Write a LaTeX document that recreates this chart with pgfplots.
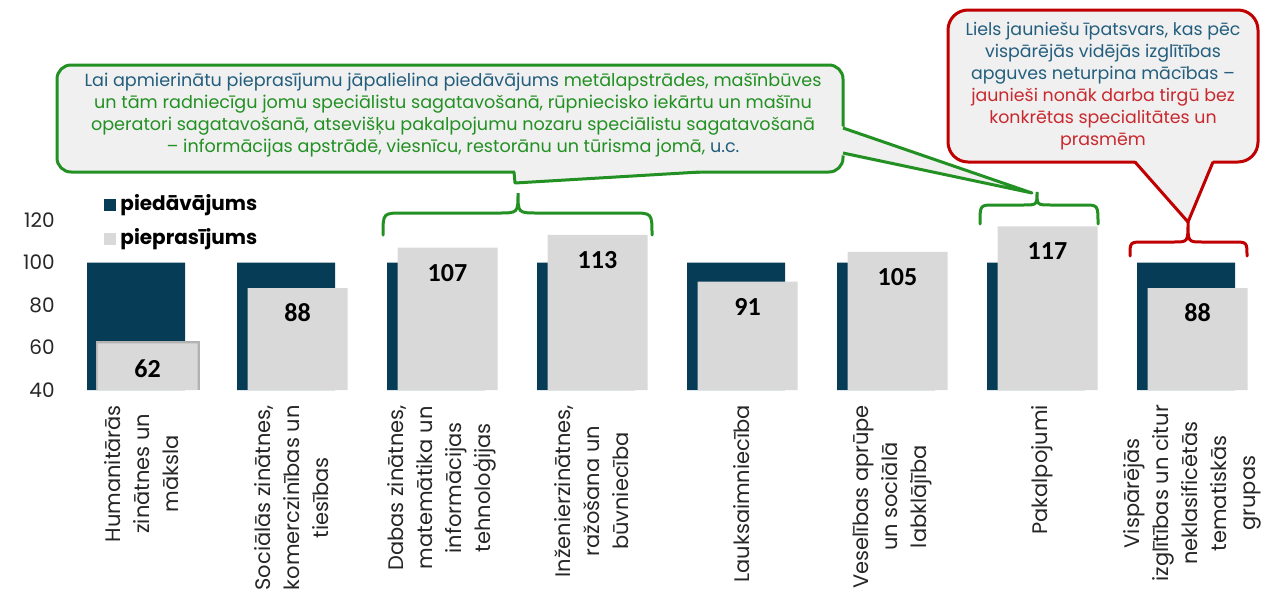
\documentclass[border=0pt]{standalone}
\usepackage{pgfplots}
\pgfplotsset{compat=1.18}
\usepackage{fontspec}
\setmainfont{Poppins}
\newfontfamily\numfont{Carlito}
\definecolor{dark}{HTML}{063C56}
\definecolor{light}{HTML}{D9D9D9}
\definecolor{cgreen}{HTML}{229022}
\definecolor{cred}{HTML}{C00000}
\definecolor{cblue}{HTML}{235E7E}
\definecolor{cfill}{HTML}{F0F0F0}
\definecolor{tred}{HTML}{C8282E}
\definecolor{txt}{HTML}{262626}
\newcommand\curly[8]{% x1 x2 xm yend yh ytip r color
  \draw[#8, line width=1.5pt, line cap=round]
    (#1,#4) .. controls (#1,#5) .. (#1+#7,#5) -- (#3-#7,#5) .. controls (#3,#5) .. (#3,#6)
    .. controls (#3,#5) .. (#3+#7,#5) -- (#2-#7,#5) .. controls (#2,#5) .. (#2,#4);}
\begin{document}
\begin{tikzpicture}
\begin{axis}[
  at={(34.25pt,-195pt)}, anchor=south west,
  scale only axis, width=592.5pt, height=85pt,
  xmin=-0.45, xmax=7.45, ymin=40, ymax=120,
  ytick={40,60,80,100,120},
  axis line style={draw=none}, major tick length=0pt,
  /pgf/number format/assume math mode=true,
  yticklabel style={font=\fontsize{10}{12}\selectfont, text=txt, xshift=-3.4pt},
  xtick={0.04,1.04,2.04,3.04,4.04,5.04,6.04,7.04},
  xticklabels={{Humanitārās\\zinātnes un\\māksla},
    {Sociālās zinātnes,\\komerczinības un\\tiesības},
    {Dabas zinātnes,\\matemātika un\\informācijas\\tehnoloģijas},
    {Inženierzinātnes,\\ražošana un\\būvniecība},
    {Lauksaimniecība},
    {Veselības aprūpe\\un sociālā\\labklājība},
    {Pakalpojumi},
    {Vispārējās\\izglītības un citur\\neklasificētās\\tematiskās\\grupas}},
  xticklabel style={yshift=-4pt, rotate=90, anchor=east, align=center, text=txt, font=\fontsize{10.5}{14.5}\selectfont},
  ybar,
  legend style={at={(0.030,1.168)}, anchor=north west, draw=none, fill=none,
    inner sep=0pt, row sep=3.5pt, font=\bfseries\fontsize{10}{11}\selectfont,
    nodes={inner sep=2pt, text height=7.5pt, text depth=2pt}},
  legend cell align=left,
]
\addplot[fill=dark, draw=none, bar width=49pt, bar shift=0pt,
  legend image code/.code={\fill[dark] (0pt,-3pt) rectangle (6pt,3pt);}]
  coordinates {(0,100) (1,100) (2,100) (3,100) (4,100) (5,100) (6,100) (7,100)};
\addlegendentry{piedāvājums}
\addplot[fill=gray!60, draw=none, bar width=52pt, bar shift=5.75pt, forget plot]
  coordinates {(0,62.9)};
\addplot[fill=light, draw=none, bar width=50pt, bar shift=5.75pt,
  legend image code/.code={\fill[light] (0pt,-3pt) rectangle (6pt,3pt);},
  nodes near coords,
  every node near coord/.append style={font=\numfont\bfseries\fontsize{13}{13}\selectfont, text=black, anchor=center, yshift=-12.5pt}]
  coordinates {(0,62) (1,88) (2,107) (3,113) (4,91) (5,105) (6,117) (7,88)};
\addlegendentry{pieprasījums}
\end{axis}
\begin{scope}[x=0.5pt, y=-0.5pt]
  % green callout
  \draw[cgreen, line width=1.5pt, fill=cfill, rounded corners=7pt] (57,65) rectangle (843,172);
  \fill[cfill] (841,126) -- (1032,193) -- (841,155) -- cycle;
  \draw[cgreen, line width=1.5pt, line join=round] (843,128) -- (1032,193) -- (843,153);
  \fill[cfill] (515,169.5) -- (515,183) -- (700,172) -- (700,169.5) -- cycle;
  \draw[cgreen, line width=1.5pt, line join=round] (514,172) -- (515,183) -- (700,172);
  \node[align=center, text=cgreen, font=\fontsize{8.8}{11}\selectfont] at (453,115)
    {\textcolor{cblue}{Lai apmierinātu pieprasījumu jāpalielina piedāvājums} metālapstrādes, mašīnbūves\\
     un tām radniecīgu jomu speciālistu sagatavošanā, rūpniecisko iekārtu un mašīnu\\
     operatori sagatavošanā, atsevišķu pakalpojumu nozaru speciālistu sagatavošanā\\
     – informācijas apstrādē, viesnīcu, restorānu un tūrisma jomā, \textcolor{cblue}{u.c.}};
  % red callout
  \draw[cred, line width=1.5pt, fill=cfill, rounded corners=10pt] (948,10) rectangle (1258,162);
  \fill[cfill] (1135,160) -- (1188,222) -- (1213,160) -- cycle;
  \draw[cred, line width=1.5pt, line join=round] (1135,162) -- (1188,222) -- (1213,162);
  \node[align=center, text=tred, font=\fontsize{8.7}{11}\selectfont] at (1103,86)
    {\textcolor{cblue}{Liels jauniešu īpatsvars, kas pēc}\\
     \textcolor{cblue}{vispārējās vidējās izglītības}\\
     \textcolor{cblue}{apguves neturpina mācības –}\\
     jaunieši nonāk darba tirgū bez\\
     konkrētas specialitātes un\\
     prasmēm};
  % braces
  \curly{383}{652}{518}{235}{213}{193}{20}{cgreen}
  \curly{980}{1098}{1037}{224}{205}{192}{14}{cgreen}
  \curly{1130}{1247}{1188}{256}{242}{222}{14}{cred}
\end{scope}
\pgfresetboundingbox
\path[use as bounding box] (0,0) rectangle (631.5pt,-297.5pt);
\end{tikzpicture}
\end{document}
